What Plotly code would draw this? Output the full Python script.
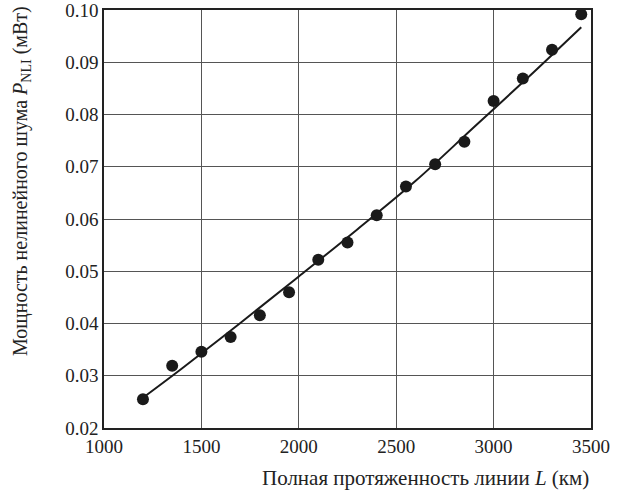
import plotly.graph_objects as go

length_km = [1200, 1350, 1500, 1650, 1800, 1950, 2100, 2250, 2400, 2550, 2700, 2850, 3000, 3150, 3300, 3450]
p_nli_mw = [0.0255, 0.0319, 0.0346, 0.0374, 0.0416, 0.0460, 0.0522, 0.0555, 0.0607, 0.0662,
            0.0705, 0.0748, 0.0826, 0.0869, 0.0924, 0.0992]
fit_x = [1200, 1400, 1700, 2000, 2300, 2600, 2900, 3200, 3450]
fit_y = [0.0258, 0.0314, 0.0401, 0.0490, 0.0580, 0.0673, 0.0776, 0.0879, 0.0967]

x_ticks = [1000, 1500, 2000, 2500, 3000, 3500]
y_ticks = [0.02, 0.03, 0.04, 0.05, 0.06, 0.07, 0.08, 0.09, 0.10]

font = "Liberation Serif, Times New Roman, serif"
ink = "#222"

fig = go.Figure()
fig.add_trace(go.Scatter(x=fit_x, y=fit_y, mode="lines", line_shape="spline",
                         line=dict(color="#1a1a1a", width=2), showlegend=False))
fig.add_trace(go.Scatter(x=length_km, y=p_nli_mw, mode="markers", cliponaxis=False,
                         marker=dict(color="#1a1a1a", size=12), showlegend=False))

axis_common = dict(showgrid=True, gridcolor="#555", gridwidth=1,
                   showline=True, linecolor="#222", linewidth=1.5, mirror=True,
                   ticks="", zeroline=False, automargin=False, ticklabeloverflow="allow",
                   tickfont=dict(family=font, size=19, color=ink))

fig.update_layout(
    width=629, height=492,
    margin=dict(l=104, r=38, t=10, b=64),
    paper_bgcolor="white", plot_bgcolor="white",
    font=dict(family=font, size=19, color=ink),
    xaxis=dict(range=[1000, 3500], tickvals=x_ticks, ticktext=[str(v) for v in x_ticks],
               **axis_common),
    yaxis=dict(range=[0.02, 0.10], tickvals=y_ticks, ticktext=[f"{v:.2f}" for v in y_ticks],
               **axis_common),
)

fig.add_annotation(text="Полная протяженность линии <i>L</i> (км)",
                   xref="paper", yref="paper", x=1.0, y=0, xanchor="right",
                   yanchor="middle", yshift=-50, showarrow=False,
                   font=dict(family=font, size=21, color=ink))
fig.add_annotation(text="Мощность нелинейного шума <i>P</i><sub>NLI</sub> (мВт)",
                   xref="paper", yref="paper", x=0, y=1.0, xanchor="center", yanchor="top",
                   xshift=-83, yshift=6, textangle=-90, showarrow=False,
                   font=dict(family=font, size=20, color=ink))

fig.write_html("out.html", config={"displayModeBar": False},
               post_script="document.body.style.margin='0';")
